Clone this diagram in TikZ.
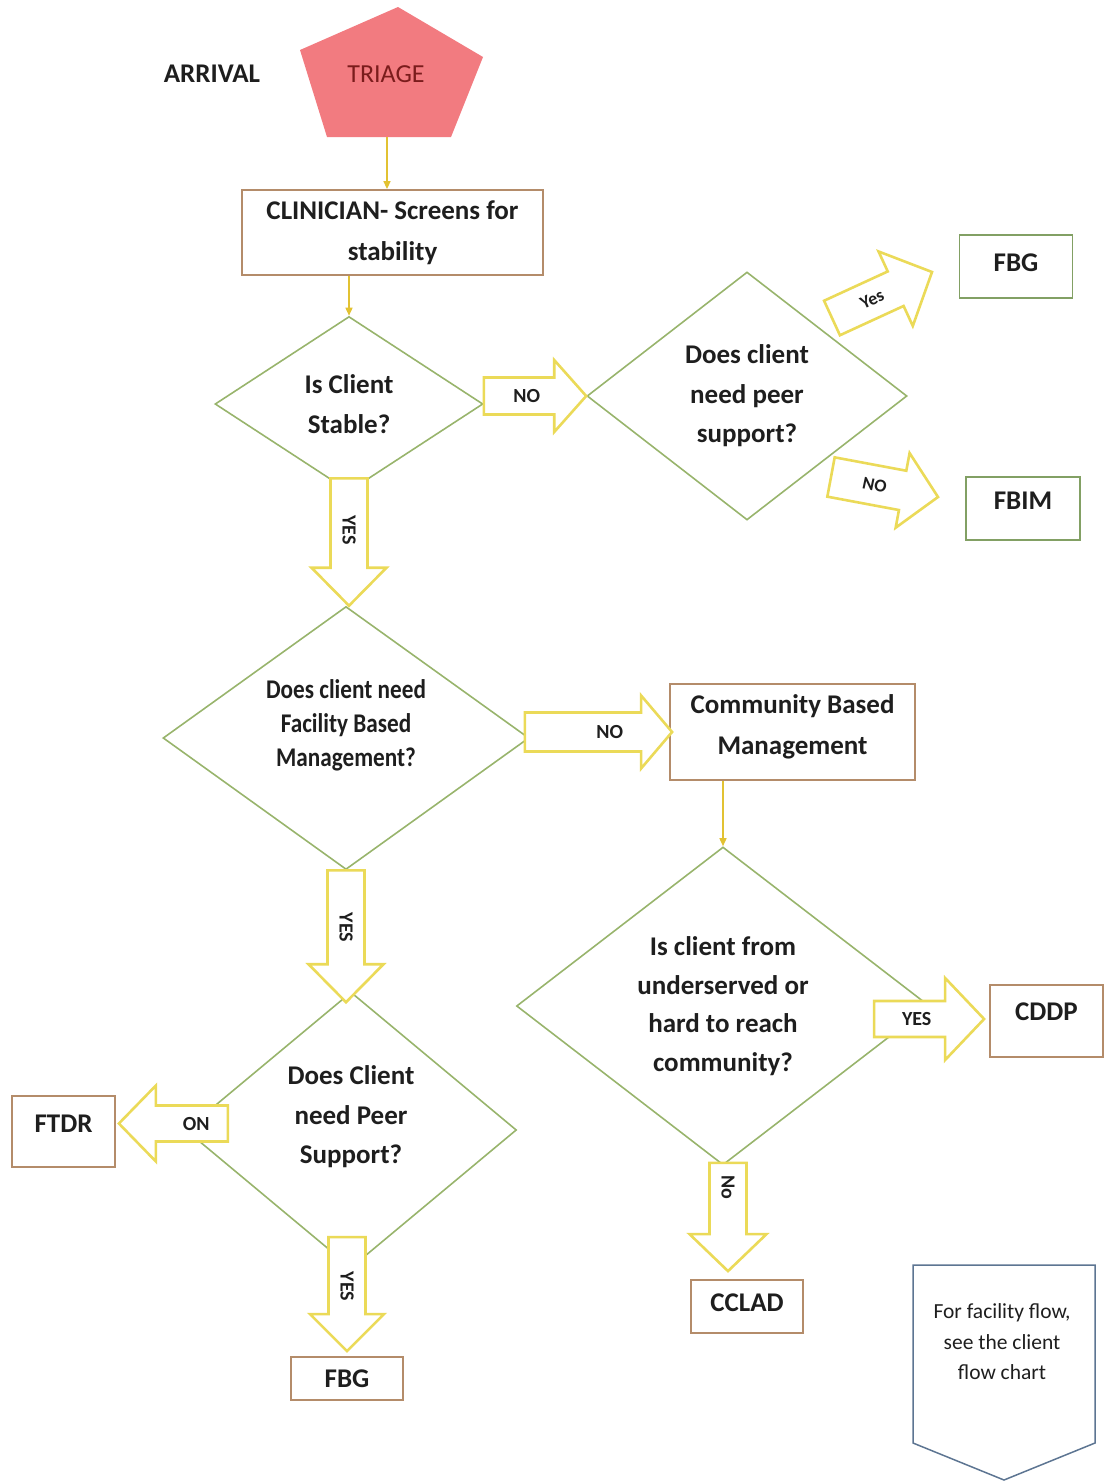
\documentclass[tikz,border=0pt]{standalone}
\usepackage{fontspec}
\setmainfont{Carlito}
\newfontfamily\condfont[FakeStretch=0.86]{Carlito}
\usetikzlibrary{shapes.geometric,calc,arrows.meta}

\definecolor{dgreen}{HTML}{98B46C}
\definecolor{boxbrown}{HTML}{B48C6A}
\definecolor{gbox}{HTML}{82A064}
\definecolor{yarrow}{HTML}{EBDA58}
\definecolor{ythin}{HTML}{E2C232}
\definecolor{pent}{HTML}{F27B80}
\definecolor{triagetext}{HTML}{7A1C1C}
\definecolor{offblue}{HTML}{5D7592}
\definecolor{txt}{HTML}{1E1E1E}

\tikzset{
 dec/.style={diamond, draw=dgreen, line width=1.6pt, inner sep=0pt, align=center, text=txt,
   font=\bfseries\fontsize{27}{40}\selectfont},
 box/.style={rectangle, draw=boxbrown, line width=1.8pt, inner sep=0pt, align=center, text=txt,
   font=\bfseries\fontsize{27}{41}\selectfont},
 gbx/.style={box, draw=gbox},
 thinarr/.style={draw=ythin, line width=1.5pt, -{Triangle[length=8pt,width=7pt]}},
 blockarrow/.style={draw=yarrow, line width=2.6pt, fill=white, line join=miter},
 lbl/.style={text=txt, font=\bfseries\fontsize{20}{20}\selectfont, inner sep=0pt},
}

% #1 name, #2 tail, #3 tip, #4 half shaft, #5 half head, #6 head length,
% #7 label position (fraction tail->head base), #8 label options, #9 label
\newcommand{\blockarr}[9]{%
 \coordinate (#1h) at ($(#3)!#6!(#2)$);
 \draw[blockarrow] ($(#2)!#4!90:(#3)$) -- ($(#1h)!#4!90:(#3)$) -- ($(#1h)!#5!90:(#3)$) -- (#3)
   -- ($(#1h)!#5!-90:(#3)$) -- ($(#1h)!#4!-90:(#3)$) -- ($(#2)!#4!-90:(#3)$) -- cycle;
 \node[lbl,#8] (#1l) at ($(#2)!#7!(#1h)$) {#9};
}

\begin{document}
\begin{tikzpicture}[x=1pt,y=-1pt]
\path[use as bounding box] (0,0) rectangle (1105,1483);

% arrival and triage
\node[text=txt, font=\bfseries\fontsize{27}{27}\selectfont] (arrival) at (212,74) {ARRIVAL};
\coordinate (p1) at (398,7);
\coordinate (p2) at (483,57);
\coordinate (p3) at (451,137);
\coordinate (p4) at (327,137);
\coordinate (p5) at (300,50);
\fill[pent] (p1) -- (p2) -- (p3) -- (p4) -- (p5) -- cycle;
\node[text=triagetext, font=\fontsize{26}{26}\selectfont] (triage) at (386,74) {TRIAGE};
\coordinate (tb) at (387,137);

% boxes
\node[box, minimum width=301, minimum height=85] (clin) at (392.5,232.5) {CLINICIAN- Screens for\\stability};
\node[gbx, minimum width=113, minimum height=63] (fbg1) at (1016,266.5) {FBG\\[-34pt]\mbox{}};
\node[gbx, minimum width=114, minimum height=63] (fbim) at (1023,508.5) {FBIM\\[-25pt]\mbox{}};
\node[box, minimum width=245, minimum height=96] (cbm) at (792.5,732) {Community Based\\Management\\[-26pt]\mbox{}};
\node[box, minimum width=113, minimum height=72] (cddp) at (1046.5,1021) {CDDP\\[-23pt]\mbox{}};
\node[box, minimum width=112, minimum height=53] (cclad) at (747,1306.5) {CCLAD\\[-34pt]\mbox{}};
\node[box, minimum width=103, minimum height=71] (ftdr) at (63.5,1131.5) {FTDR\\[-25pt]\mbox{}};
\node[box, minimum width=112, minimum height=43] (fbg2) at (347,1378.5) {FBG};

% decisions
\node[dec, aspect=1.53, minimum width=268, minimum height=175] (d1) at (349,404)
  {Is Client\\Stable?};
\node[dec, aspect=1.29, minimum width=320, minimum height=248, font=\bfseries\fontsize{27}{39.5}\selectfont] (d2) at (747,396)
  {Does client\\need peer\\support?};
\node[dec, aspect=1.4, minimum width=366, minimum height=263, font=\condfont\bfseries\fontsize{27}{34}\selectfont] (d3) at (346,738)
  {Does client need\\Facility Based\\Management?\\[-5pt]\mbox{}};
\node[dec, aspect=1.3, minimum width=413, minimum height=318, font=\bfseries\fontsize{27}{38.5}\selectfont] (d4) at (723,1006)
  {Is client from\\underserved or\\hard to reach\\community?};
\node[dec, aspect=1.2, minimum width=331, minimum height=276, font=\bfseries\fontsize{27}{39.5}\selectfont] (d5) at (351,1130)
  {Does Client\\need Peer\\Support?\\[-9.5pt]\mbox{}};

% thin connectors
\draw[thinarr] (tb) -- (tb |- clin.north);
\draw[thinarr] (d1.north |- clin.south) -- (d1.north);
\draw[thinarr] (d4.north |- cbm.south) -- (d4.north);

% block arrows
\coordinate (a1t) at ($(d1.south)+(0,-14)$);
\coordinate (a1e) at (d1.south |- d3.north);
\blockarr{a1}{a1t}{a1e}{18.5pt}{37.5pt}{38pt}{0.58}{rotate=-90}{YES}

\coordinate (a2t) at (d1.east |- d2.west);
\blockarr{a2}{a2t}{d2.west}{18.5pt}{36pt}{32pt}{0.61}{}{NO}

\coordinate (a3t) at (832,318);
\coordinate (a3e) at (932,272);
\blockarr{a3}{a3t}{a3e}{19pt}{41pt}{40pt}{0.63}{rotate=25,font=\bfseries\fontsize{18}{18}\selectfont}{Yes}

\coordinate (a4t) at (831,477);
\coordinate (a4e) at (938,497);
\blockarr{a4}{a4t}{a4e}{20pt}{38pt}{36pt}{0.61}{rotate=-12,font=\bfseries\fontsize{18}{18}\selectfont}{NO}

\coordinate (a5e) at ($(d3.south |- d5.north)+(0,11)$);
\blockarr{a5}{d3.south}{a5e}{18.5pt}{37.5pt}{38pt}{0.61}{rotate=-90}{YES}

\coordinate (a6t) at ($(d3.east |- cbm.west)+(-5,0)$);
\coordinate (a6e) at ($(cbm.west)+(3,0)$);
\blockarr{a6}{a6t}{a6e}{19.5pt}{36.5pt}{31pt}{0.73}{}{NO}

\coordinate (a7e) at ($(cddp.west)+(-5,-2)$);
\coordinate (a7t) at ($(a7e)+(-110,0)$);
\blockarr{a7}{a7t}{a7e}{18pt}{41pt}{39pt}{0.6}{}{YES}

\coordinate (a8t) at ($(d4.south)+(5,-3)$);
\coordinate (a8e) at ($(a8t |- cclad.north)+(0,-8)$);
\blockarr{a8}{a8t}{a8e}{18.5pt}{38.5pt}{37pt}{0.34}{rotate=-90}{No}

\coordinate (a9e) at ($(ftdr.east)+(3,-8)$);
\coordinate (a9t) at ($(a9e)+(109,0)$);
\blockarr{a9}{a9t}{a9e}{18pt}{38pt}{37pt}{0.44}{}{ON}

\coordinate (a10e) at ($(fbg2.north)+(0,-5)$);
\coordinate (a10t) at ($(a10e)+(0,-114)$);
\blockarr{a10}{a10t}{a10e}{18.5pt}{37pt}{37pt}{0.64}{rotate=-90}{YES}

% off-page connector
\coordinate (o1) at (913,1265);
\coordinate (o2) at (1095,1265);
\coordinate (o3) at (1095,1443);
\coordinate (o4) at (1004,1480);
\coordinate (o5) at (913,1443);
\draw[draw=offblue, line width=1.5pt] (o1) -- (o2) -- (o3) -- (o4) -- (o5) -- cycle;
\node[text=txt, align=center, inner sep=0pt, font=\fontsize{21.5}{30.5}\selectfont] (offt) at (1002,1342)
  {For facility flow,\\see the client\\flow chart};
\end{tikzpicture}
\end{document}
